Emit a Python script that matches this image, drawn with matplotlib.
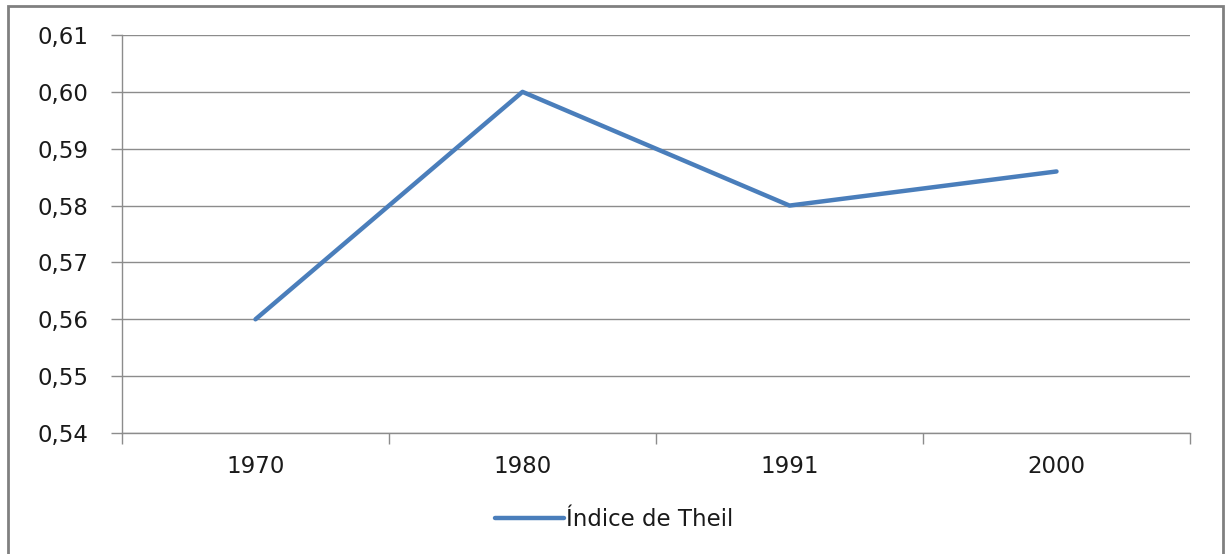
import matplotlib
matplotlib.use("Agg")
import matplotlib.pyplot as plt
from matplotlib.patches import Rectangle
from matplotlib.ticker import FixedLocator, FuncFormatter

categories = ["1970", "1980", "1991", "2000"]
theil = [0.560, 0.600, 0.580, 0.586]
y_ticks = [0.54, 0.55, 0.56, 0.57, 0.58, 0.59, 0.60, 0.61]
series_name = "Índice de Theil"

W, H = 1227, 554
fig = plt.figure(figsize=(W / 100, H / 100), dpi=100)
ax = fig.add_axes([122 / W, 1 - 433 / H, (1190 - 122) / W, (433 - 35) / H])

x = list(range(len(categories)))
line_color = "#4A7EBB"
ax.plot(x, theil, color=line_color, lw=3.2, solid_capstyle="round",
        solid_joinstyle="round", label=series_name, zorder=3)

ax.set_xlim(-0.5, len(categories) - 0.5)
ax.set_ylim(y_ticks[0], y_ticks[-1])
ax.set_yticks(y_ticks)
ax.yaxis.set_major_formatter(FuncFormatter(lambda v, p: f"{v:.2f}".replace(".", ",")))
ax.set_xticks(x)
ax.set_xticklabels(categories)
ax.xaxis.set_minor_locator(FixedLocator([i - 0.5 for i in range(len(categories) + 1)]))

grid_c = "#8c8c8c"
ax.grid(axis="y", color=grid_c, lw=1.0)
ax.set_axisbelow(True)
for s in ["top", "right"]:
    ax.spines[s].set_visible(False)
ax.spines["left"].set_color(grid_c)
ax.spines["bottom"].set_color(grid_c)
ax.spines["left"].set_linewidth(1.0)
ax.spines["bottom"].set_linewidth(1.0)

ax.tick_params(axis="y", which="major", length=8, width=1.0, color=grid_c,
               labelsize=16.5, labelcolor="#1a1a1a", pad=16)
ax.tick_params(axis="x", which="major", length=0, labelsize=16.5,
               labelcolor="#1a1a1a", pad=16)
ax.tick_params(axis="x", which="minor", length=8, width=1.0, color=grid_c)

leg = fig.legend(loc="center", bbox_to_anchor=(614 / W, 1 - 520 / H), frameon=False,
                 fontsize=16.5, handlelength=3.0, handletextpad=0.1,
                 labelcolor="#1a1a1a")

fig.patches.append(Rectangle((8 / W, -0.05), (1223 - 8) / W, 1.05 - 6 / H,
                             transform=fig.transFigure, fill=False,
                             edgecolor="#808080", lw=2, clip_on=False))

fig.savefig("out.png", dpi=100)
